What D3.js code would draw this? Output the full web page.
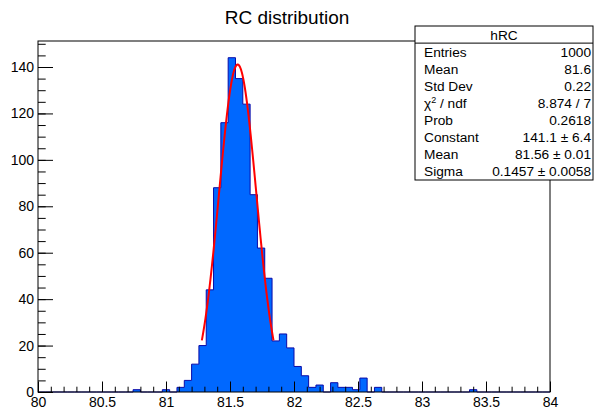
<!DOCTYPE html>
<html>
<head>
<meta charset="utf-8">
<script src="https://cdn.jsdelivr.net/npm/d3@7"></script>
<style>
  html, body { margin: 0; padding: 0; background: #fff; }
  svg { display: block; }
  text { font-family: "Liberation Sans", Arial, Helvetica, sans-serif; fill: #000; }
</style>
</head>
<body>
<svg id="chart" width="594" height="411"></svg>
<script>
// Histogram hRC: 70 equal bins over [80, 84]
const histRange = [80, 84];
const binCounts = [
  0, 0, 0, 0, 0, 0, 0, 0, 0, 0,
  0, 0, 0, 1, 0, 0, 0, 1, 0, 2,
  5, 12, 20, 44, 88, 116, 144, 135, 124, 85,
  62, 49, 22, 25, 19, 11, 7, 2, 3, 0,
  4, 2, 2, 1, 6, 0, 2, 0, 0, 0,
  0, 0, 0, 0, 0, 0, 0, 0, 0, 1,
  0, 0, 0, 0, 0, 0, 0, 0, 0, 0
];

// Gaussian fit result
const fitConstant = 141.1;
const fitMean = 81.56;
const fitSigma = 0.1457;
const fitRange = [81.28, 81.84];

// Axis ticks
const xTickValues = [80, 80.5, 81, 81.5, 82, 82.5, 83, 83.5, 84];
const yTickValues = [0, 20, 40, 60, 80, 100, 120, 140];

// Statistics box
const statsTitle = "hRC";
const statsLabels = ["Entries", "Mean", "Std Dev", "χ2 / ndf", "Prob", "Constant", "Mean", "Sigma"];
const statsValues = ["1000", "81.6", "0.22", "8.874 / 7", "0.2618", "141.1 ± 6.4", "81.56 ± 0.01", "0.1457 ± 0.0058"];

const chartTitle = "RC distribution";

// ---- layout ----
const frame = { left: 38, right: 550, top: 41, bottom: 392 };
const svg = d3.select("#chart");

const nBins = binCounts.length;
const binWidth = (histRange[1] - histRange[0]) / nBins;
const yMax = d3.max(binCounts) * 1.05;

const x = d3.scaleLinear().domain(histRange).range([frame.left, frame.right]);
const y = d3.scaleLinear().domain([0, yMax]).range([frame.bottom, frame.top]);

// step outline of the histogram
const steps = [[histRange[0], 0]];
binCounts.forEach((c, i) => {
  const lo = histRange[0] + i * binWidth;
  steps.push([lo, c], [lo + binWidth, c]);
});
steps.push([histRange[1], 0]);

const stepLine = d3.line().x(d => x(d[0])).y(d => y(d[1]));
const stepArea = d3.area().x(d => x(d[0])).y0(y(0)).y1(d => y(d[1]));

svg.append("path")
  .attr("d", stepArea(steps))
  .attr("fill", "#0068ff");
svg.append("path")
  .attr("d", stepLine(steps))
  .attr("fill", "none")
  .attr("stroke", "#0a0aa8")
  .attr("stroke-width", 1);

// Gaussian fit curve
const gauss = v => fitConstant * Math.exp(-0.5 * Math.pow((v - fitMean) / fitSigma, 2));
const fitPts = d3.range(0, 101).map(i => {
  const v = fitRange[0] + (fitRange[1] - fitRange[0]) * i / 100;
  return [v, gauss(v)];
});
svg.append("path")
  .attr("d", d3.line().x(d => x(d[0])).y(d => y(d[1]))(fitPts))
  .attr("fill", "none")
  .attr("stroke", "#ff0000")
  .attr("stroke-width", 2)
  .attr("stroke-linejoin", "round");

// frame
svg.append("rect")
  .attr("x", frame.left).attr("y", frame.top)
  .attr("width", frame.right - frame.left)
  .attr("height", frame.bottom - frame.top)
  .attr("fill", "none")
  .attr("stroke", "#000")
  .attr("stroke-width", 1);

// axes with ticks pointing into the frame
const fmt = d => String(d);
const xAxis = svg.append("g")
  .attr("transform", `translate(0,${frame.bottom})`)
  .call(d3.axisBottom(x).tickValues(xTickValues).tickSizeInner(-10.5).tickSizeOuter(0).tickPadding(5).tickFormat(fmt));
const xMinor = svg.append("g")
  .attr("transform", `translate(0,${frame.bottom})`)
  .call(d3.axisBottom(x).ticks(40).tickSizeInner(-5.3).tickSizeOuter(0).tickFormat(""));

const yAxis = svg.append("g")
  .attr("transform", `translate(${frame.left},0)`)
  .call(d3.axisLeft(y).tickValues(yTickValues).tickSizeInner(-15).tickSizeOuter(0).tickPadding(4).tickFormat(fmt));
const yMinor = svg.append("g")
  .attr("transform", `translate(${frame.left},0)`)
  .call(d3.axisLeft(y).tickValues(d3.range(0, yMax, 5)).tickSizeInner(-7.7).tickSizeOuter(0).tickFormat(""));

[xAxis, xMinor, yAxis, yMinor].forEach(g => {
  g.select(".domain").remove();
  g.selectAll(".tick line").attr("stroke", "#000");
  g.selectAll("text")
    .attr("font-family", "'Liberation Sans', Arial, sans-serif")
    .attr("font-size", 14)
    .attr("fill", "#000");
});

// title
svg.append("text")
  .attr("x", 287).attr("y", 24)
  .attr("text-anchor", "middle")
  .attr("font-size", 19)
  .text(chartTitle);

// statistics box
const box = { x: 415, y: 26, w: 178, h: 154 };
const rowH = box.h / (statsLabels.length + 1);
const stats = svg.append("g");
stats.append("rect")
  .attr("x", box.x).attr("y", box.y)
  .attr("width", box.w).attr("height", box.h)
  .attr("fill", "#fff").attr("stroke", "#000").attr("stroke-width", 1);
stats.append("line")
  .attr("x1", box.x).attr("x2", box.x + box.w)
  .attr("y1", box.y + rowH).attr("y2", box.y + rowH)
  .attr("stroke", "#000");
stats.append("text")
  .attr("x", box.x + box.w / 2)
  .attr("y", box.y + rowH / 2 + 5)
  .attr("text-anchor", "middle")
  .attr("font-size", 13.7)
  .text(statsTitle);

statsLabels.forEach((lab, i) => {
  const cy = box.y + rowH * (i + 1.5) + 5;
  const t = stats.append("text")
    .attr("x", box.x + 9).attr("y", cy)
    .attr("font-size", 13.7);
  if (lab.startsWith("χ2")) {
    t.append("tspan").text("χ");
    t.append("tspan").attr("font-size", 9).attr("dy", -5).text("2");
    t.append("tspan").attr("dy", 5).text(lab.slice(2));
  } else {
    t.text(lab);
  }
  stats.append("text")
    .attr("x", box.x + box.w - 2).attr("y", cy)
    .attr("text-anchor", "end")
    .attr("font-size", 13.7)
    .text(statsValues[i]);
});
</script>
</body>
</html>
